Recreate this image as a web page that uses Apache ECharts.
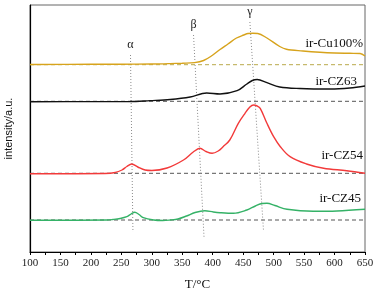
<!DOCTYPE html>
<html>
<head>
<meta charset="utf-8">
<script src="https://cdn.jsdelivr.net/npm/echarts@6/dist/echarts.min.js"></script>
<style>
html, body { margin: 0; padding: 0; background: #fff; }
#main { width: 379px; height: 294px; }
</style>
</head>
<body>
<div id="main"></div>
<script>
// 温度 T/°C 和强度 (a.u.)，每条曲线自己的采样点
var tCu = [100, 200, 250, 300, 330, 350, 370, 385, 399, 412, 425, 439, 451, 458, 466, 474, 489, 510, 521, 548, 576, 600, 625, 642, 650];
var vCu = [187.5, 187.7, 187.8, 188, 188.4, 188.8, 189.4, 191.5, 196.5, 202.5, 208, 214, 217, 218.5, 218.7, 218.5, 214, 205.5, 202.7, 201, 199.7, 199, 198.7, 198.5, 196];

var tCZ63 = [100, 200, 264, 297, 330, 363, 390, 412, 440, 456, 465, 473, 489, 510, 543, 593, 625, 650];
var vCZ63 = [150.3, 150.4, 150.5, 151.4, 152.5, 155, 159, 158, 161.3, 168, 171.5, 172.5, 169.3, 165, 163.5, 163, 164, 166];

var tCZ54 = [100, 223, 240, 251, 259, 267, 277, 289, 300, 325, 352, 368, 379, 389, 399, 409, 417, 428, 442, 453, 461, 467, 473, 478, 489, 500, 511, 527, 554, 582, 620, 650];
var vCZ54 = [78.2, 78.5, 79.5, 82, 85.5, 88, 85, 82, 81.5, 84, 92, 100, 103.7, 100.5, 98.7, 101, 105.3, 112, 128.7, 138.7, 145, 147, 146, 143.7, 128.7, 115.3, 105.3, 95.3, 88, 83.7, 81.3, 78.7];

var tCZ45 = [100, 226, 236, 248, 259, 266, 272, 279, 286, 303, 318, 330, 343, 357, 371, 387, 401, 412, 434, 456, 470, 481, 489, 502, 522, 565, 604, 650];
var vCZ45 = [31.7, 32, 32.5, 33.5, 35.3, 38, 39.7, 37.5, 34.3, 32, 31.5, 32, 33, 36, 39.5, 41.3, 40, 39.3, 38.7, 42, 46, 48.5, 48.7, 46.5, 42.7, 40.7, 41, 42.7];

// 虚线基线
var baseCu = 187.3, baseCZ63 = 150.7, baseCZ54 = 78.7, baseCZ45 = 32;

// α β γ 点线 (上端, 下端)
var guideNames = ['α', 'β', 'γ'];
var guideT = [[265, 269], [368.5, 385.7], [461, 483.4]];
var guideV = [[197, 20], [217, 15], [230, 21]];

var names = ['ir-Cu100%', 'ir-CZ63', 'ir-CZ54', 'ir-CZ45'];
var colors = ['#d7a31c', '#111111', '#f23a3a', '#35b267'];

function pairs(ts, vs) {
    return ts.map(function (t, i) { return [t, vs[i]]; });
}

var myChart = echarts.init(document.getElementById('main'));

var series = [];
var curveT = [tCu, tCZ63, tCZ54, tCZ45];
var curveV = [vCu, vCZ63, vCZ54, vCZ45];
var bases = [baseCu, baseCZ63, baseCZ54, baseCZ45];

// 基线先画, 在曲线下面
bases.forEach(function (b, i) {
    series.push({
        type: 'line',
        silent: true,
        symbol: 'none',
        data: [[100, b], [650, b]],
        lineStyle: { color: i === 0 ? '#b9a94a' : '#555', width: 1, type: [4, 3] },
        z: 1
    });
});

guideT.forEach(function (g, i) {
    series.push({
        type: 'line',
        silent: true,
        symbol: 'none',
        data: [[g[0], guideV[i][0]], [g[1], guideV[i][1]]],
        lineStyle: { color: '#8a8a8a', width: 1, type: [1, 2] },
        z: 2
    });
});

curveT.forEach(function (ts, i) {
    series.push({
        name: names[i],
        type: 'line',
        symbol: 'none',
        smooth: 0.35,
        data: pairs(ts, curveV[i]),
        lineStyle: { color: colors[i], width: 1.4 },
        z: 3
    });
});

var serif = 'Liberation Serif';

var option = {
    animation: false,
    grid: {
        left: 30, right: 14, top: 5, bottom: 42,
        outerBoundsMode: 'none', containLabel: false,
        show: true, borderColor: '#666', borderWidth: 1
    },
    xAxis: {
        type: 'value',
        min: 100,
        max: 650,
        interval: 50,
        name: 'T/°C',
        nameLocation: 'middle',
        nameGap: 26,
        nameTextStyle: { fontFamily: serif, fontSize: 13, color: '#111' },
        axisLine: { show: true, lineStyle: { color: '#000', width: 1.2 } },
        axisTick: { show: true, length: 3, lineStyle: { color: '#000' } },
        minorTick: { show: true, splitNumber: 2, length: 3, lineStyle: { color: '#000' } },
        axisLabel: { fontFamily: serif, fontSize: 11, color: '#222', margin: 6 },
        splitLine: { show: false }
    },
    yAxis: {
        type: 'value',
        min: 0,
        max: 247,
        name: 'intensity/a.u.',
        nameLocation: 'middle',
        nameGap: 16,
        nameTextStyle: { fontFamily: 'Liberation Sans', fontSize: 11, color: '#111' },
        axisLine: { show: true, lineStyle: { color: '#000', width: 1.2 } },
        axisTick: { show: false },
        axisLabel: { show: false },
        splitLine: { show: false }
    },
    graphic: [
        { type: 'text', right: 16, top: 37, style: { text: names[0], font: '13px ' + serif, fill: '#111' } },
        { type: 'text', right: 22, top: 75, style: { text: names[1], font: '13px ' + serif, fill: '#111' } },
        { type: 'text', right: 16, top: 149, style: { text: names[2], font: '13px ' + serif, fill: '#111' } },
        { type: 'text', right: 18, top: 192, style: { text: names[3], font: '13px ' + serif, fill: '#111' } }
    ],
    series: series
};

myChart.setOption(option);

// 希腊字母放在点线顶上, 位置由坐标换算
var gr = option.graphic.slice();
guideT.forEach(function (g, i) {
    var p = myChart.convertToPixel('grid', [g[0], guideV[i][0]]);
    gr.push({
        type: 'text',
        x: p[0],
        y: p[1] - 4,
        style: { text: guideNames[i], font: '12px ' + serif, fill: '#222', align: 'center', verticalAlign: 'bottom' }
    });
});
myChart.setOption({ graphic: gr });
</script>
</body>
</html>
